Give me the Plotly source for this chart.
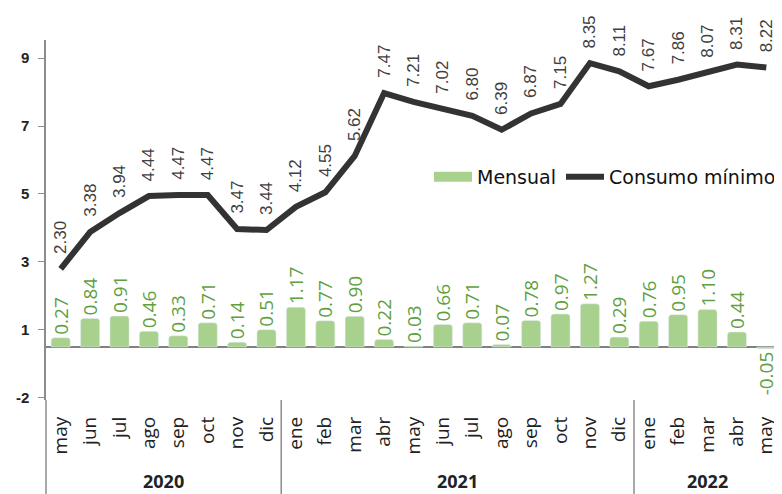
import plotly.graph_objects as go

years = ["2020"] * 8 + ["2021"] * 12 + ["2022"] * 5
months = ["may", "jun", "jul", "ago", "sep", "oct", "nov", "dic",
          "ene", "feb", "mar", "abr", "may", "jun", "jul", "ago", "sep", "oct", "nov", "dic",
          "ene", "feb", "mar", "abr", "may"]
mensual = [0.27, 0.84, 0.91, 0.46, 0.33, 0.71, 0.14, 0.51,
           1.17, 0.77, 0.90, 0.22, 0.03, 0.66, 0.71, 0.07, 0.78, 0.97, 1.27, 0.29,
           0.76, 0.95, 1.10, 0.44, -0.05]
consumo = [2.30, 3.38, 3.94, 4.44, 4.47, 4.47, 3.47, 3.44,
           4.12, 4.55, 5.62, 7.47, 7.21, 7.02, 6.80, 6.39, 6.87, 7.15, 8.35, 8.11,
           7.67, 7.86, 8.07, 8.31, 8.22]
ytick_vals = [-1.5, 0.5, 2.5, 4.5, 6.5, 8.5]
ytick_text = ["-2", "1", "3", "5", "7", "9"]

idx = list(range(len(months)))

fig = go.Figure()
fig.add_trace(go.Bar(
    x=idx, y=mensual, name="Mensual", showlegend=False,
    marker=dict(color="#A9D18E", cornerradius=3),
    text=["%.2f" % v for v in mensual], textposition="outside",
    textangle=-90, constraintext="none", cliponaxis=False,
    textfont=dict(family="Open Sans", size=19, color="#5FA03F"),
))
# legend entry for the bars (wide green swatch)
fig.add_trace(go.Scatter(x=[None], y=[None], name="Mensual", mode="lines",
                         line=dict(color="#A9D18E", width=14)))
fig.add_trace(go.Scatter(
    x=idx, y=consumo, name="Consumo mínimo", mode="lines",
    line=dict(color="#333333", width=6), cliponaxis=False,
))

for i, v in enumerate(consumo):
    fig.add_annotation(x=i, y=v, text="%.2f" % v, textangle=-90,
                       showarrow=False, yanchor="bottom", xanchor="center",
                       yshift=13, font=dict(family="Liberation Sans", size=17, color="#404040"))

# year group labels and dividers
groups = []
for i, y in enumerate(years):
    if not groups or groups[-1][0] != y:
        groups.append([y, i, i])
    else:
        groups[-1][2] = i
for y, a, b in groups:
    fig.add_annotation(x=(a + b) / 2, y=-0.226, xref="x", yref="paper", text="<b>%s</b>" % y,
                       showarrow=False, yanchor="middle", borderpad=0,
                       font=dict(family="Open Sans", size=18, color="#222222"))
    fig.add_shape(type="line", xref="x", yref="paper", x0=b + 0.5, x1=b + 0.5, y0=0, y1=-0.27,
                  line=dict(color="#8c8c8c", width=1.5))

fig.update_layout(
    width=774, height=486,
    margin=dict(l=38, r=1, t=32, b=94),
    plot_bgcolor="white", paper_bgcolor="white",
    bargap=0.35,
    showlegend=True,
    legend=dict(orientation="h", x=1.0, xanchor="right", y=0.62, yanchor="middle",
                font=dict(family="DejaVu Sans", size=19, color="#111111"),
                itemwidth=38, bgcolor="rgba(0,0,0,0)", traceorder="normal",
                tracegroupgap=0),
    xaxis=dict(range=[-0.5, len(months) - 0.5], tickvals=idx, ticktext=months,
               showgrid=False, ticks="", tickangle=-90, ticklabelstandoff=12,
               tickfont=dict(family="Open Sans", size=19, color="#222222"),
               showline=False, zeroline=False),
    yaxis=dict(range=[-1.56, 9.03], tickvals=ytick_vals, ticktext=ytick_text,
               showgrid=False, ticks="outside", ticklen=6, tickcolor="#8c8c8c",
               ticklabelstandoff=6,
               tickfont=dict(family="Liberation Sans", size=15, color="#222222", weight="bold"),
               showline=True, linecolor="#8c8c8c", linewidth=1.5,
               zeroline=True, zerolinecolor="#808080", zerolinewidth=1.5),
)
fig.add_shape(type="line", xref="paper", yref="paper", x0=0, x1=0, y0=0, y1=-0.27,
              line=dict(color="#8c8c8c", width=1.5))

fig.write_html("out.html")
